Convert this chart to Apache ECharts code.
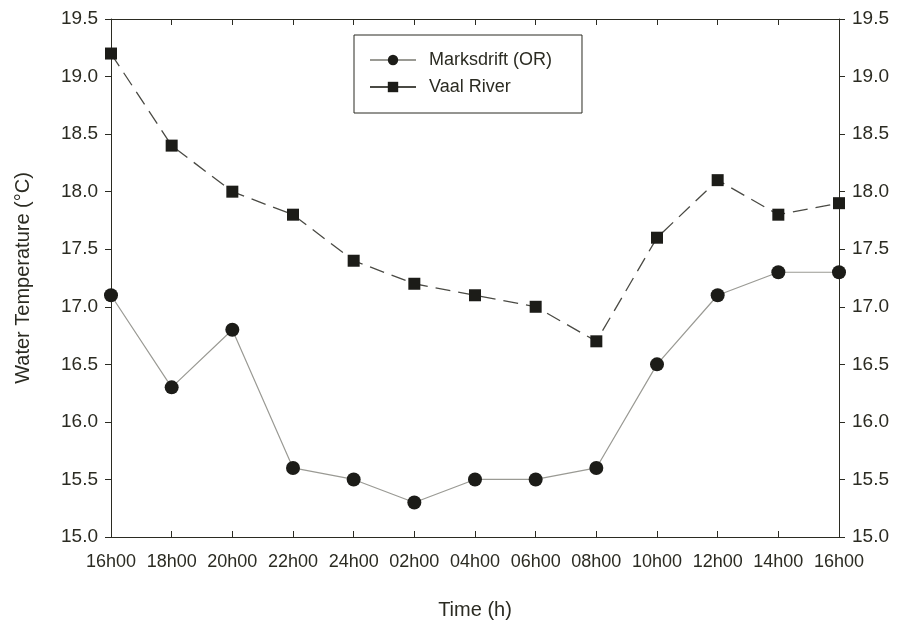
<!DOCTYPE html>
<html>
<head>
<meta charset="utf-8">
<script src="https://cdn.jsdelivr.net/npm/echarts@6/dist/echarts.min.js"></script>
<style>
  html, body { margin: 0; padding: 0; background: #fff; }
  #chart { width: 902px; height: 627px; }
</style>
</head>
<body>
<div id="chart"></div>
<script>
// Sampling times over a 24-hour period
const times = ['16h00','18h00','20h00','22h00','24h00','02h00','04h00','06h00','08h00','10h00','12h00','14h00','16h00'];
// Water temperature (°C)
const marksdrift = [17.1, 16.3, 16.8, 15.6, 15.5, 15.3, 15.5, 15.5, 15.6, 16.5, 17.1, 17.3, 17.3];
const vaalRiver  = [19.2, 18.4, 18.0, 17.8, 17.4, 17.2, 17.1, 17.0, 16.7, 17.6, 18.1, 17.8, 17.9];

const ink = '#2b2b22';
const font = 'Liberation Sans, Arial, sans-serif';
const chart = echarts.init(document.getElementById('chart'));

const yBase = {
  type: 'value', min: 15, max: 19.5, interval: 0.5,
  axisLine: { show: true, lineStyle: { color: ink, width: 1 } },
  axisTick: { show: true, inside: false, length: 6, lineStyle: { color: ink } },
  splitLine: { show: false },
  axisLabel: { color: ink, fontSize: 19, fontFamily: font, margin: 13, formatter: v => v.toFixed(1) }
};

chart.setOption({
  backgroundColor: '#fff',
  animation: false,
  grid: { left: 111, right: 63, top: 19, bottom: 90 },
  legend: {
    left: 354, top: 35, orient: 'vertical',
    padding: [16, 30, 17, 15],
    itemGap: 9,
    itemWidth: 46, itemHeight: 13,
    borderColor: ink, borderWidth: 1,
    textStyle: { color: ink, fontSize: 18, fontFamily: font, padding: [0, 0, 0, 8] },
    data: [
      { name: 'Marksdrift (OR)' },
      { name: 'Vaal River', lineStyle: { type: 'solid' } }
    ]
  },
  xAxis: [{
    type: 'category', data: times, boundaryGap: false, position: 'bottom',
    axisLine: { lineStyle: { color: ink } },
    axisTick: { inside: true, length: 6, alignWithLabel: true, lineStyle: { color: ink } },
    axisLabel: { color: ink, fontSize: 18, fontFamily: font, margin: 16, interval: 0 },
    name: 'Time (h)', nameLocation: 'middle', nameGap: 63,
    nameTextStyle: { color: ink, fontSize: 20, fontFamily: font }
  }, {
    type: 'category', data: times, boundaryGap: false, position: 'top',
    axisLine: { lineStyle: { color: ink } },
    axisTick: { inside: true, length: 6, lineStyle: { color: ink } },
    axisLabel: { show: false }
  }],
  yAxis: [Object.assign({}, yBase, {
    position: 'left',
    name: 'Water Temperature (°C)', nameLocation: 'middle', nameGap: 78,
    nameTextStyle: { color: ink, fontSize: 20, fontFamily: font }
  }), Object.assign({}, yBase, { position: 'right' })],
  series: [{
    name: 'Marksdrift (OR)', type: 'line', data: marksdrift,
    symbol: 'circle', symbolSize: 14,
    lineStyle: { color: '#9a9a94', width: 1.2 },
    itemStyle: { color: '#1c1c18' }
  }, {
    name: 'Vaal River', type: 'line', data: vaalRiver,
    symbol: 'rect', symbolSize: 12,
    lineStyle: { color: '#4a4a44', width: 1.3, type: [15, 8] },
    itemStyle: { color: '#1c1c18' }
  }]
});
</script>
</body>
</html>
